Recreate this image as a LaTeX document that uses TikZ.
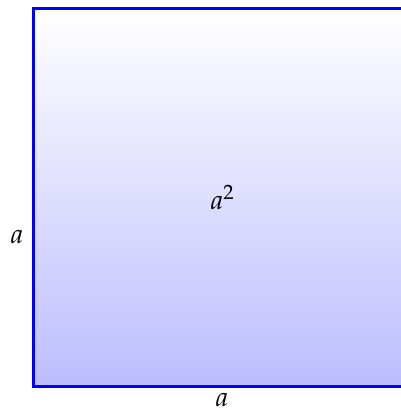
\documentclass[tikz,border=0pt]{standalone}
\usepackage{mathpazo}
\usetikzlibrary{positioning}
\begin{document}
\begin{tikzpicture}[x=0.02cm,y=0.02cm,font=\fontsize{15.5}{18}\selectfont,square/.style={draw=blue,line width=1.8pt,top color=white,bottom color=blue!26,minimum size=7.56cm,inner sep=0pt},side/.style={inner sep=0pt}]
\clip (0,0) rectangle (401,412);
\node[square] (sq) at (222.5,214.5) {$a^2$};
\node[side] (left) at (17,175) {$a$};
\node[side] (bottom) at (222,12) {$a$};
\end{tikzpicture}
\end{document}
